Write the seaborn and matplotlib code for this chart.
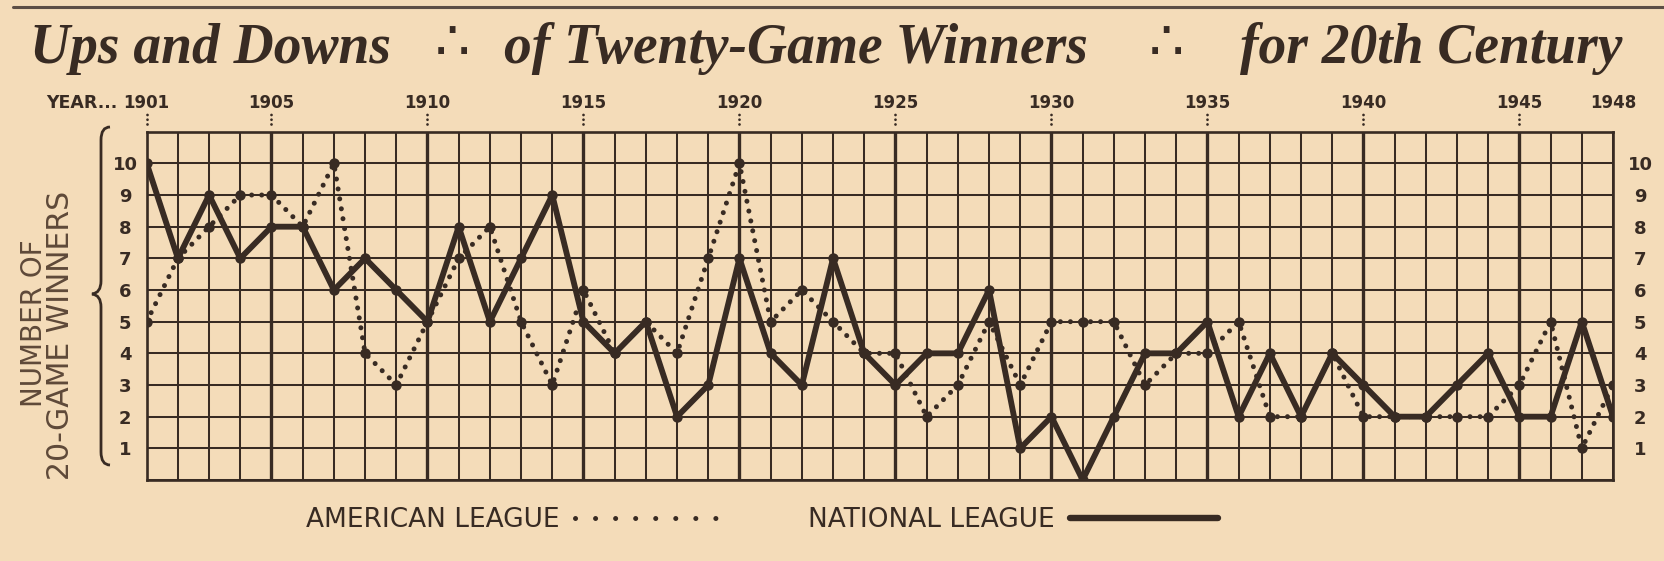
import pandas as pd
import matplotlib.pyplot as plt
import seaborn as sns
from matplotlib.lines import Line2D
from matplotlib.path import Path
from matplotlib.patches import PathPatch

# Number of 20-game winners per season
years = list(range(1901, 1949))
american = [5, 7, 8, 9, 9, 8, 10, 4, 3, 5,
            7, 8, 5, 3, 6, 4, 5, 4, 7, 10,
            5, 6, 5, 4, 4, 2, 3, 5, 3, 5,
            5, 5, 3, 4, 4, 5, 2, 2, 4, 2,
            2, 2, 2, 2, 3, 5, 1, 3]
national = [10, 7, 9, 7, 8, 8, 6, 7, 6, 5,
            8, 5, 7, 9, 5, 4, 5, 2, 3, 7,
            4, 3, 7, 4, 3, 4, 4, 6, 1, 2,
            0, 2, 4, 4, 5, 2, 4, 2, 4, 3,
            2, 2, 3, 4, 2, 2, 5, 2]
labeled_years = [1901, 1905, 1910, 1915, 1920, 1925, 1930, 1935, 1940, 1945, 1948]
count_ticks = list(range(0, 12))
count_labels = ["" if c in (0, 11) else str(c) for c in count_ticks]

df = pd.DataFrame({"year": years, "american": american, "national": national})

sns.set_theme(style="white")
plt.rcParams["font.family"] = ["DejaVu Sans"]

paper = "#f4dcb9"
ink = "#382b23"
soft_ink = "#5e4939"
W, H = 1665, 561

fig = plt.figure(figsize=(W / 100, H / 100), dpi=100, facecolor=paper)
ax = fig.add_axes([146.7 / W, 1 - 480 / H, (1613 - 146.7) / W, (480 - 131.7) / H])
ax.set_facecolor(paper)

# American League: dotted, National League: heavy solid
sns.lineplot(data=df, x="year", y="american", ax=ax, color=ink, linewidth=3.6,
             linestyle=(0, (0.01, 2.0)), dash_capstyle="round",
             marker="o", markersize=7.5, markeredgewidth=0, zorder=3)
sns.lineplot(data=df, x="year", y="national", ax=ax, color=ink, linewidth=4.2,
             marker="o", markersize=7.5, markeredgewidth=0, zorder=4)

ax.set_xlim(1901, 1948)
ax.set_ylim(0, 11)
ax.set_xlabel("")
ax.set_ylabel("")

# grid: one line per year and per count, every fifth year heavier
ax.set_xticks(years)
ax.set_xticklabels([str(y) if y in labeled_years else "" for y in years])
ax.xaxis.tick_top()
ax.tick_params(axis="x", length=0, pad=14, labelsize=12, labelcolor=ink)
for lab in ax.get_xticklabels():
    lab.set_fontweight("bold")
ax.set_yticks(count_ticks)
ax.set_yticklabels(count_labels)
ax.tick_params(axis="y", length=0, pad=15.6, labelsize=13, labelcolor=ink)
for lab in ax.get_yticklabels():
    lab.set_ha("center")
    lab.set_fontweight("bold")

ax.grid(True, color=ink, linewidth=1.45)
ax.set_axisbelow(True)
for y, gl in zip(years, ax.get_xgridlines()):
    if y % 5 == 0:
        gl.set_linewidth(2.4)
for sp in ax.spines.values():
    sp.set_visible(True)
    sp.set_color(ink)
    sp.set_linewidth(1.9)

# right hand count scale
ax2 = ax.twinx()
ax2.set_ylim(0, 11)
ax2.set_yticks(count_ticks)
ax2.set_yticklabels(count_labels)
ax2.tick_params(axis="y", length=0, pad=19.4, labelsize=13, labelcolor=ink)
for lab in ax2.get_yticklabels():
    lab.set_ha("center")
    lab.set_fontweight("bold")
ax2.grid(False)
for sp in ax2.spines.values():
    sp.set_visible(False)

# little dotted ticks under the year labels
for y in labeled_years[:-1]:
    ax.plot([y, y], [1.022, 1.055], transform=ax.get_xaxis_transform(),
            color=ink, linewidth=2, linestyle=(0, (0.01, 1.7)),
            dash_capstyle="round", clip_on=False)

ax.annotate("YEAR...", xy=(1901, 1), xycoords=("data", "axes fraction"),
            xytext=(-21, 14), textcoords="offset points", ha="right", va="bottom",
            fontsize=12.5, fontweight="bold", color=ink)

# brace and rotated label on the left
def fx(px):
    return px / W

def fy(py):
    return 1 - py / H

brace = Path(
    [(fx(110), fy(127)), (fx(101), fy(127)), (fx(101), fy(140)),
     (fx(101), fy(281)),
     (fx(101), fy(293)), (fx(92), fy(294)),
     (fx(101), fy(295)), (fx(101), fy(307)),
     (fx(101), fy(452)),
     (fx(101), fy(465)), (fx(110), fy(465))],
    [Path.MOVETO, Path.CURVE3, Path.CURVE3, Path.LINETO,
     Path.CURVE3, Path.CURVE3, Path.CURVE3, Path.CURVE3,
     Path.LINETO, Path.CURVE3, Path.CURVE3])
fig.add_artist(PathPatch(brace, transform=fig.transFigure, facecolor="none",
                         edgecolor=ink, linewidth=2.0))
fig.text(fx(34), fy(323), "NUMBER OF", rotation=90, ha="center", va="center",
         fontsize=20, color=soft_ink)
fig.text(fx(61), fy(335), "20-GAME WINNERS", rotation=90, ha="center", va="center",
         fontsize=21.5, color=soft_ink)

# title
fig.add_artist(Line2D([0.008, 1.0], [fy(7), fy(7)], transform=fig.transFigure,
                      color="#5c4e45", linewidth=2.2))
title_kw = dict(fontsize=40, fontweight="bold", fontstyle="italic",
                family=["Liberation Serif", "DejaVu Serif"], color=ink, va="baseline")
fig.text(fx(30), fy(63), "Ups and Downs", ha="left", **title_kw)
fig.text(fx(504), fy(63), "of Twenty-Game Winners", ha="left", **title_kw)
fig.text(fx(1622), fy(63), "for 20th Century", ha="right", **title_kw)
for cx in (452, 1166):
    fig.text(fx(cx), fy(60), "\u2234", ha="center", va="baseline",
             fontsize=40, color=ink)

# legend along the bottom
handles = [Line2D([], [], color=ink, linewidth=3.6, linestyle=(0, (0.01, 4.0)),
                  dash_capstyle="round"),
           Line2D([], [], color=ink, linewidth=4.6)]
fig.legend(handles, ["AMERICAN LEAGUE", "NATIONAL LEAGUE"], loc="center",
           bbox_to_anchor=(fx(762), fy(520)), ncol=2, frameon=False,
           markerfirst=False, handlelength=5.6, columnspacing=3.2,
           handletextpad=0.6, prop={"size": 19}, labelcolor=ink)

fig.savefig("out.png", dpi=100, facecolor=paper)
